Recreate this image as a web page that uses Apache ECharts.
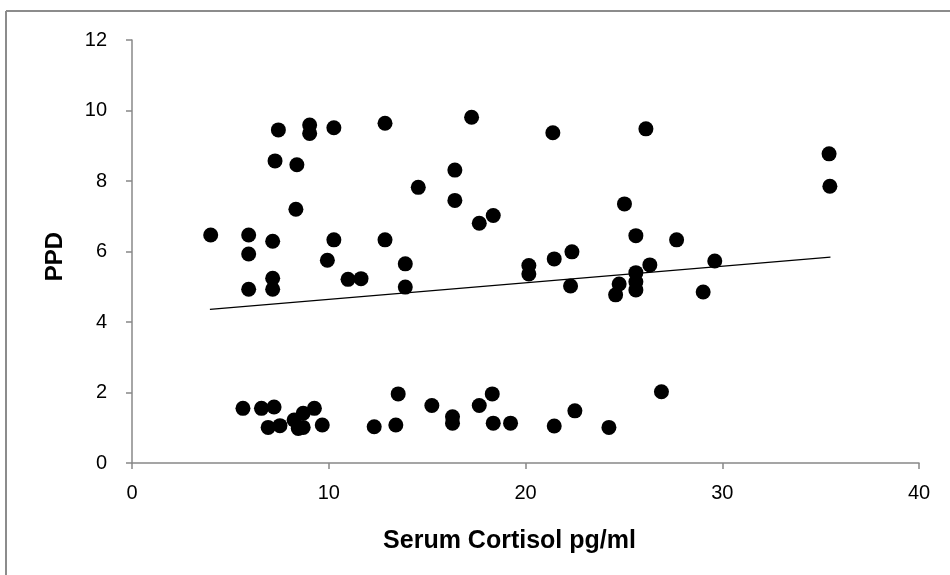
<!DOCTYPE html>
<html>
<head>
<meta charset="utf-8">
<script src="https://cdn.jsdelivr.net/npm/echarts@6/dist/echarts.min.js"></script>
<style>
  html, body { margin: 0; padding: 0; background: #fff; }
  #chart { width: 950px; height: 575px; }
</style>
</head>
<body>
<div id="chart"></div>
<script>
// Serum cortisol (pg/ml) and PPD for each subject
const cortisol = [
  4.0, 5.93, 5.93, 5.93, 7.15, 7.15, 7.15, 7.44, 7.27, 8.38, 8.33, 9.03, 9.03, 10.26, 10.26, 9.93, 10.98, 11.64, 12.86, 12.86,
  17.26, 21.39, 26.12, 16.41, 14.55, 16.41, 17.65, 18.36, 25.03, 25.61, 13.89, 13.89, 20.17, 20.17, 21.46, 22.36, 22.29,
  24.76, 24.58, 25.61, 25.61, 25.61, 26.32, 35.43, 35.47, 27.68, 29.62, 29.03,
  5.64, 6.58, 7.22, 6.92, 7.52, 8.24, 8.70, 9.27, 8.45, 8.70, 9.67, 12.31, 13.41, 13.53, 15.24, 16.29, 16.29, 17.65,
  18.31, 18.36, 19.24, 21.46, 22.51, 24.24, 26.91
];
const ppd = [
  6.47, 6.47, 5.93, 4.93, 6.29, 5.24, 4.93, 9.45, 8.57, 8.46, 7.20, 9.59, 9.35, 9.51, 6.33, 5.75, 5.21, 5.23, 9.64, 6.33,
  9.81, 9.37, 9.48, 8.31, 7.82, 7.45, 6.80, 7.02, 7.35, 6.45, 5.65, 4.99, 5.60, 5.36, 5.79, 5.99, 5.02,
  5.08, 4.77, 5.40, 5.14, 4.91, 5.62, 8.77, 7.85, 6.33, 5.73, 4.85,
  1.55, 1.55, 1.59, 1.01, 1.06, 1.22, 1.41, 1.55, 0.98, 1.01, 1.08, 1.03, 1.08, 1.96, 1.63, 1.31, 1.13, 1.63,
  1.96, 1.13, 1.13, 1.05, 1.48, 1.01, 2.02
];

// Linear trend line end points
const trendX = [3.96, 35.5];
const trendY = [4.36, 5.84];

// Axis ranges and ticks
const xMin = 0, xMax = 40, xStep = 10;
const yMin = 0, yMax = 12, yStep = 2;

const points = cortisol.map((x, i) => [x, ppd[i]]);
const trend = trendX.map((x, i) => [x, trendY[i]]);

const chart = echarts.init(document.getElementById('chart'), null, { renderer: 'canvas' });
const font = '"Liberation Sans", Arial, sans-serif';
const axisGray = '#888888';

chart.setOption({
  animation: false,
  backgroundColor: '#ffffff',
  grid: { left: 132, right: 31, top: 40, bottom: 112, containLabel: false },
  xAxis: {
    type: 'value', min: xMin, max: xMax, interval: xStep,
    name: 'Serum Cortisol pg/ml', nameLocation: 'middle', nameGap: 66,
    nameTextStyle: { fontFamily: font, fontSize: 25, fontWeight: 'bold', color: '#000', padding: [0, 32, 0, 0] },
    axisLine: { show: true, lineStyle: { color: axisGray, width: 1.5 } },
    axisTick: { show: true, length: 6, lineStyle: { color: axisGray, width: 1.5 } },
    axisLabel: { fontFamily: font, fontSize: 20, color: '#000', margin: 20 },
    splitLine: { show: false }
  },
  yAxis: {
    type: 'value', min: yMin, max: yMax, interval: yStep,
    name: 'PPD', nameLocation: 'middle', nameGap: 65, nameRotate: 90,
    nameTextStyle: { fontFamily: font, fontSize: 24, fontWeight: 'bold', color: '#000', padding: [0, 10, 0, 0] },
    axisLine: { show: true, lineStyle: { color: axisGray, width: 1.5 } },
    axisTick: { show: true, length: 6, lineStyle: { color: axisGray, width: 1.5 } },
    axisLabel: { fontFamily: font, fontSize: 20, color: '#000', margin: 25 },
    splitLine: { show: false }
  },
  graphic: [
    { type: 'line', silent: true, shape: { x1: 6, y1: 11, x2: 950, y2: 11 },
      style: { stroke: '#8c8c8c', lineWidth: 2 } },
    { type: 'line', silent: true, shape: { x1: 6, y1: 11, x2: 6, y2: 575 },
      style: { stroke: '#8c8c8c', lineWidth: 2 } }
  ],
  series: [
    {
      type: 'scatter', data: points, symbol: 'circle', symbolSize: 15,
      itemStyle: { color: '#000000', opacity: 1 }, z: 3
    },
    {
      type: 'line', data: trend, symbol: 'none',
      lineStyle: { color: '#000000', width: 1.2 }, z: 2
    }
  ]
});
</script>
</body>
</html>
